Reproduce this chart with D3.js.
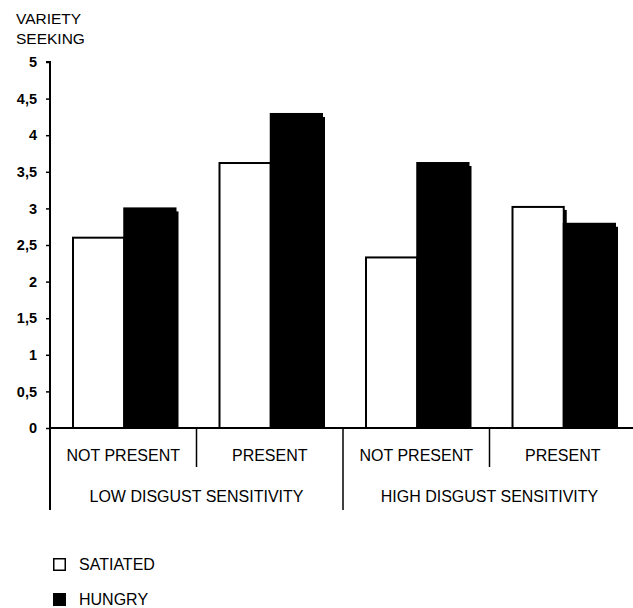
<!DOCTYPE html>
<html>
<head>
  <title>Variety seeking</title>
  <style>
    body { margin: 0; background: #fff; }
    text { font-family: "Liberation Sans", Arial, sans-serif; }
  </style>
</head>
<body>
  <svg id="main" width="633" height="608"></svg>

  <script src="https://cdn.jsdelivr.net/npm/d3@7.0.1/dist/d3.min.js"></script>
  <script>
    const conditions = ['NOT PRESENT', 'PRESENT', 'NOT PRESENT', 'PRESENT']
    const groups = ['LOW DISGUST SENSITIVITY', 'HIGH DISGUST SENSITIVITY']
    const seriesNames = ['SATIATED', 'HUNGRY']
    const satiated = [2.6, 3.62, 2.33, 3.02]
    const hungry = [3.0, 4.29, 3.62, 2.79]
    const yTicks = [0, 0.5, 1, 1.5, 2, 2.5, 3, 3.5, 4, 4.5, 5]

    const data = conditions.map((c, i) => ({ key: i, cond: c, values: [satiated[i], hungry[i]] }))

    const svg = d3.select('#main')
    const plotLeft = 50, plotRight = 636, plotTop = 62, plotBottom = 428

    const x0 = d3.scaleBand().domain(d3.range(conditions.length)).range([plotLeft, plotRight])
    const x1 = d3.scaleBand().domain([0, 1]).range([23, x0.bandwidth() - 21])
    const y = d3.scaleLinear().domain([0, 5]).range([plotBottom, plotTop])
    const fills = ['#fff', '#000']

    const g = svg.append('g')

    // bars
    const bg = g.selectAll('.grp').data(data).join('g')
      .attr('transform', d => `translate(${x0(d.key)},0)`)
    bg.selectAll('.shadow').data(d => d.values).join('rect')
      .attr('x', (d, i) => x1(i) + 3)
      .attr('y', d => y(d) + 3)
      .attr('width', x1.bandwidth())
      .attr('height', d => plotBottom - y(d) - 3)
      .attr('fill', '#000')
    bg.selectAll('.bar').data(d => d.values).join('rect')
      .attr('x', (d, i) => x1(i))
      .attr('y', d => y(d))
      .attr('width', x1.bandwidth())
      .attr('height', d => plotBottom - y(d))
      .attr('fill', (d, i) => fills[i])
      .attr('stroke', '#000')
      .attr('stroke-width', 2)

    // y axis
    const yAxis = d3.axisLeft(y).tickValues(yTicks).tickSize(4).tickPadding(9)
      .tickFormat(d => String(d).replace('.', ','))
    const ya = g.append('g').attr('transform', `translate(${plotLeft},0)`).call(yAxis)
    ya.select('.domain').attr('stroke-width', 2).attr('d', `M-4,${plotTop}H0V${plotBottom + 82}`)
    ya.selectAll('.tick line').attr('stroke-width', 1.5)
    ya.selectAll('.tick text').attr('font-size', 14.5).attr('font-weight', 'bold')
      .style('font-family', '"Liberation Sans", Arial, sans-serif')

    // x axis baseline
    g.append('line').attr('x1', plotLeft).attr('x2', plotRight).attr('y1', plotBottom).attr('y2', plotBottom)
      .attr('stroke', '#000').attr('stroke-width', 2)

    // dividers
    const divs = d3.range(1, conditions.length).map(i => ({ x: x0(i), long: i % 2 === 0 }))
    g.selectAll('.div').data(divs).join('line')
      .attr('x1', d => d.x).attr('x2', d => d.x)
      .attr('y1', plotBottom).attr('y2', d => d.long ? plotBottom + 82 : plotBottom + 39)
      .attr('stroke', '#000').attr('stroke-width', 1.5)

    g.selectAll('.cond').data(data).join('text')
      .attr('x', d => x0(d.key) + x0.bandwidth() / 2)
      .attr('y', plotBottom + 33)
      .attr('text-anchor', 'middle').attr('font-size', 16)
      .text(d => d.cond)

    g.selectAll('.grpl').data(groups).join('text')
      .attr('x', (d, i) => x0(i * 2) + x0.bandwidth())
      .attr('y', plotBottom + 74)
      .attr('text-anchor', 'middle').attr('font-size', 16)
      .text(d => d)

    // axis title
    svg.append('text').attr('x', 16).attr('y', 24).attr('font-size', 15.5).text('VARIETY')
    svg.append('text').attr('x', 16).attr('y', 44).attr('font-size', 15.5).text('SEEKING')

    // legend
    const lg = svg.selectAll('.leg').data(seriesNames).join('g')
      .attr('transform', (d, i) => `translate(53,${558 + i * 35})`)
    lg.append('rect').attr('x', 0.75).attr('y', 0.75).attr('width', 11.5).attr('height', 11.5)
      .attr('fill', (d, i) => fills[i]).attr('stroke', '#000').attr('stroke-width', 1.5)
    lg.append('text').attr('x', 26).attr('y', 12).attr('font-size', 16).text(d => d)
  </script>
</body>
</html>
